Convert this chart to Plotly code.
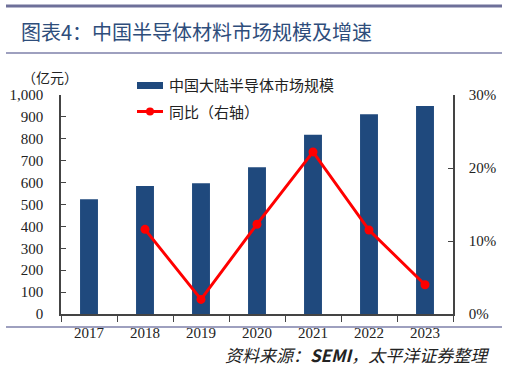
import plotly.graph_objects as go

years = ["2017", "2018", "2019", "2020", "2021", "2022", "2023"]
market = [524, 584, 597, 670, 819, 912, 950]
yoy_years = ["2018", "2019", "2020", "2021", "2022", "2023"]
yoy = [0.116, 0.020, 0.123, 0.222, 0.115, 0.040]
bar_name = "中国大陆半导体市场规模"
line_name = "同比（右轴）"

BAR = "#1F497D"
RED = "#FF0000"
LINE = "#7E80AA"
TITLE = "#2E4D7B"
W, H = 507, 381
L, R, T, B = 61, 54, 95, 67

fig = go.Figure()
fig.add_trace(go.Bar(x=years, y=market, name=bar_name, showlegend=False,
                     marker=dict(color=BAR, line=dict(width=0)), width=0.32))
fig.add_trace(go.Scatter(x=yoy_years, y=yoy, name=line_name, yaxis="y2",
                         mode="lines+markers", showlegend=False,
                         line=dict(color=RED, width=3),
                         marker=dict(color=RED, size=9)))

def px(x):
    return (x - L) / (W - L - R)

def py(y):
    return (H - B - y) / (H - T - B)

tickfont = dict(family="Liberation Serif", size=15, color="#222")
fig.update_layout(
    width=W, height=H,
    margin=dict(l=L, r=R, t=T, b=B, autoexpand=False),
    paper_bgcolor="white", plot_bgcolor="white",
    xaxis=dict(type="category", showline=True, linecolor="#444", linewidth=1.5,
               ticks="outside", ticklen=6, tickcolor="#444", tickson="boundaries",
               tickfont=tickfont, ticklabelstandoff=4, automargin=False,
               showgrid=False, zeroline=False),
    yaxis=dict(range=[0, 1000], dtick=100, tickformat=",", showline=True,
               linecolor="#444", linewidth=1.5, ticks="inside", ticklen=5,
               tickcolor="#444", showgrid=False, zeroline=False, automargin=False,
               tickfont=tickfont, ticklabelstandoff=13),
    yaxis2=dict(range=[0, 0.3], dtick=0.1, tickformat=".0%", overlaying="y",
                side="right", showline=True, linecolor="#444", linewidth=1.5,
                ticks="inside", ticklen=5, tickcolor="#444", showgrid=False,
                zeroline=False, tickfont=tickfont, ticklabelstandoff=11,
                automargin=False),
)

shapes = [
    dict(type="line", xref="paper", yref="paper", x0=px(6), x1=px(502),
         y0=py(6), y1=py(6), line=dict(color="#6E7099", width=3)),
    dict(type="line", xref="paper", yref="paper", x0=px(6), x1=px(502),
         y0=py(53), y1=py(53), line=dict(color=LINE, width=1.5)),
    dict(type="line", xref="paper", yref="paper", x0=px(6), x1=px(502),
         y0=py(327), y1=py(327), line=dict(color=LINE, width=1.5)),
    # legend keys
    dict(type="rect", xref="paper", yref="paper", x0=px(137), x1=px(163),
         y0=py(89), y1=py(82), fillcolor=BAR, line=dict(width=0)),
    dict(type="line", xref="paper", yref="paper", x0=px(137), x1=px(163),
         y0=py(111.5), y1=py(111.5), line=dict(color=RED, width=3)),
    dict(type="circle", xref="paper", yref="paper", x0=px(146), x1=px(154),
         y0=py(115.5), y1=py(107.5), fillcolor=RED, line=dict(width=0)),
]
fig.update_layout(shapes=shapes)

cjk = "Noto Sans CJK SC"
fig.add_annotation(text=bar_name, xref="paper", yref="paper",
                   x=px(167), y=py(85), xanchor="left", yanchor="middle",
                   showarrow=False, font=dict(family=cjk, size=15, color="#222"))
fig.add_annotation(text=line_name, xref="paper", yref="paper",
                   x=px(167), y=py(111), xanchor="left", yanchor="middle",
                   showarrow=False, font=dict(family=cjk, size=15, color="#222"))
fig.add_annotation(text="图表4：中国半导体材料市场规模及增速", xref="paper", yref="paper",
                   x=px(19), y=py(32), xanchor="left", yanchor="middle",
                   showarrow=False,
                   font=dict(family=cjk, size=20, color=TITLE))
fig.add_annotation(text="（亿元）", xref="paper", yref="paper",
                   x=px(20), y=py(77), xanchor="left", yanchor="middle",
                   showarrow=False,
                   font=dict(family=cjk, size=14, color="#222"))
fig.add_annotation(text="<i>资料来源：<b>SEMI</b>，太平洋证券整理</i>", xref="paper", yref="paper",
                   x=px(491), y=py(354), xanchor="right", yanchor="middle",
                   showarrow=False,
                   font=dict(family=cjk, size=17, color="#222"))

fig.write_html("out.html")
